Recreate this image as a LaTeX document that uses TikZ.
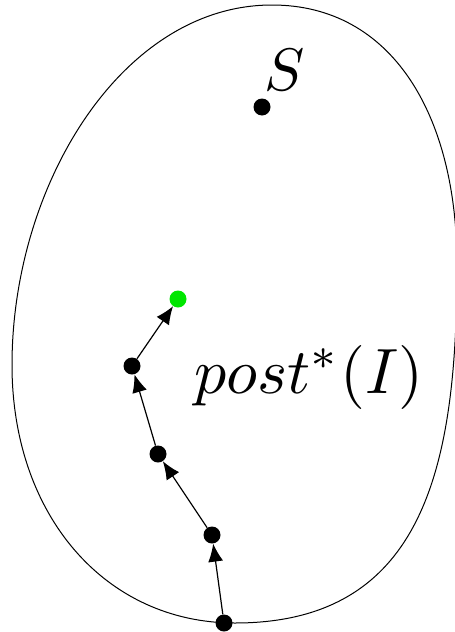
\documentclass[tikz,border=0pt]{standalone}
\usetikzlibrary{arrows.meta}
\begin{document}
\begin{tikzpicture}[x=1pt,y=-1pt,
  dot/.style={circle,fill=black,inner sep=0pt,minimum size=17pt},
  gdot/.style={circle,fill={rgb,255:red,0;green,230;blue,0},inner sep=0pt,minimum size=17pt},
  conn/.style={line width=1.2pt,-{Latex[length=18pt,width=15pt]}}]
\useasboundingbox (0,0) rectangle (455,632);
\draw[line width=1pt] (272,5) .. controls (392,5) and (457,115) .. (457,265)
  .. controls (457,465) and (425,623) .. (235,623)
  .. controls (105,623) and (12,515) .. (12,365)
  .. controls (12,185) and (122,5) .. cycle;
\node[dot] (s) at (262,107) {};
\node[scale=6.0] (sl) at (285,70) {$S$};
\node[scale=6.4] (pl) at (309,377) {$post^*(I)$};
\node[dot] (a) at (224,623) {};
\node[dot] (b) at (212,535) {};
\node[dot] (c) at (158,454) {};
\node[dot] (d) at (132,366) {};
\node[gdot] (e) at (178,299) {};
\draw[conn] (a) -- (b);
\draw[conn] (b) -- (c);
\draw[conn] (c) -- (d);
\draw[conn] (d) -- (e);
\end{tikzpicture}
\end{document}
